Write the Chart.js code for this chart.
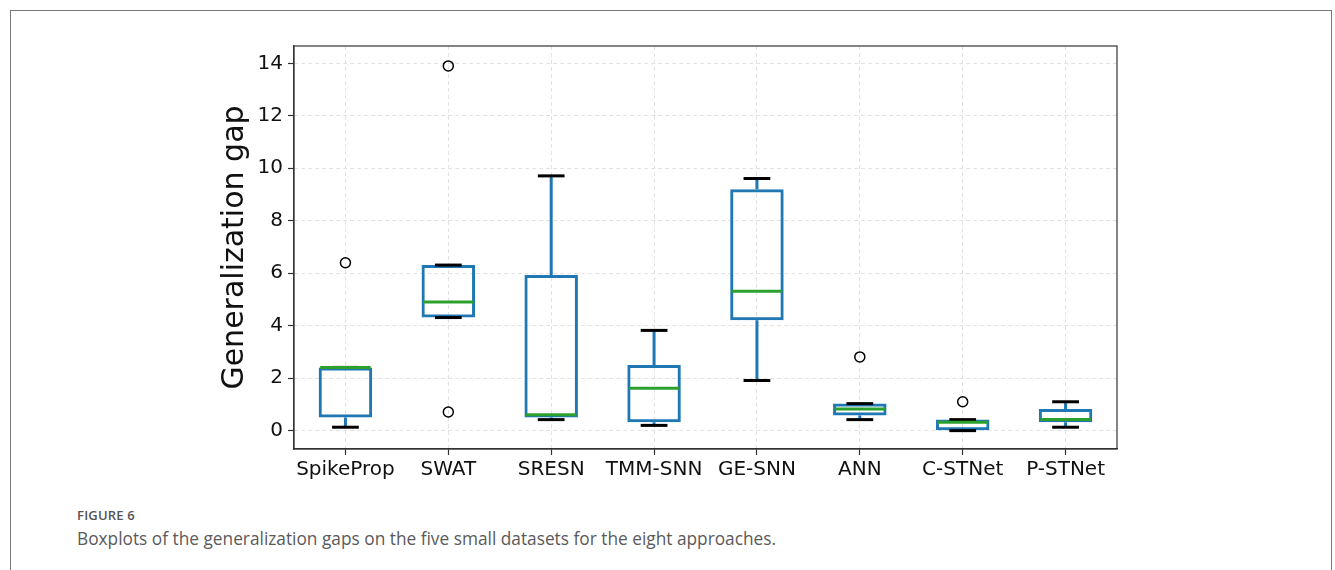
<!DOCTYPE html>
<html>
<head>
<meta charset="utf-8">
<script src="https://cdn.jsdelivr.net/npm/chart.js@4.4.1/dist/chart.umd.min.js"></script>
<style>
	body { margin: 0; background: #fff; overflow: hidden; }
	#frame {
		position: absolute; left: 10px; top: 10px; width: 1320px; height: 600px;
		border: 1px solid #777; border-bottom: none;
	}
	#chart { position: absolute; left: 0; top: 0; }
	.fig-no {
		position: absolute; left: 77px; top: 506px;
		font: 600 13px "Open Sans", sans-serif; color: #555; letter-spacing: 0.2px;
	}
	.fig-cap {
		position: absolute; left: 77px; top: 527px;
		font: 400 17.3px "Open Sans", sans-serif; color: #5a5a5a;
	}
</style>
</head>
<body>
<div id="frame"></div>
<canvas id="chart" width="1335" height="490"></canvas>
<div class="fig-no">FIGURE 6</div>
<div class="fig-cap">Boxplots of the generalization gaps on the five small datasets for the eight approaches.</div>

<script>
var methods = ["SpikeProp", "SWAT", "SRESN", "TMM-SNN", "GE-SNN", "ANN", "C-STNet", "P-STNet"];

// box statistics
var whiskerLow = [0.13, 4.31, 0.42, 0.2, 1.91, 0.42, 0.0, 0.13];
var q1 = [0.5, 4.31, 0.5, 0.32, 4.21, 0.58, 0.0, 0.32];
var median = [2.41, 4.9, 0.61, 1.62, 5.31, 0.82, 0.32, 0.42];
var q3 = [2.41, 6.31, 5.93, 2.5, 9.2, 1.03, 0.42, 0.82];
var whiskerHigh = [2.41, 6.31, 9.71, 3.82, 9.61, 1.03, 0.42, 1.1];

// fliers
var outlierMethods = ["SpikeProp", "SWAT", "SWAT", "ANN", "C-STNet"];
var outlierValues = [6.4, 13.9, 0.71, 2.81, 1.1];

var yTicks = [0, 2, 4, 6, 8, 10, 12, 14];

var BLUE = "#1f77b4";
var GREEN = "#2ca02c";

function drawSeg(ctx, x1, y1, x2, y2, color, width) {
	ctx.beginPath();
	ctx.strokeStyle = color;
	ctx.lineWidth = width;
	ctx.lineCap = "butt";
	ctx.moveTo(x1, y1);
	ctx.lineTo(x2, y2);
	ctx.stroke();
}

// whiskers, caps and medians, placed through the chart scales
var boxParts = {
	id: "boxParts",
	afterDatasetsDraw: function (chart) {
		var ctx = chart.ctx;
		var xs = chart.scales.x;
		var ys = chart.scales.y;
		var step = xs.getPixelForValue(1) - xs.getPixelForValue(0);
		var capHalf = step * 0.13;
		var boxHalf = step * 0.26;
		ctx.save();
		methods.forEach(function (m, i) {
			var x = xs.getPixelForValue(i);
			drawSeg(ctx, x, ys.getPixelForValue(q3[i]), x, ys.getPixelForValue(whiskerHigh[i]), BLUE, 3);
			drawSeg(ctx, x, ys.getPixelForValue(q1[i]), x, ys.getPixelForValue(whiskerLow[i]), BLUE, 3);
		});
		methods.forEach(function (m, i) {
			var x = xs.getPixelForValue(i);
			var yh = ys.getPixelForValue(whiskerHigh[i]);
			var yl = ys.getPixelForValue(whiskerLow[i]);
			drawSeg(ctx, x - capHalf, yh, x + capHalf, yh, "#000", 3);
			drawSeg(ctx, x - capHalf, yl, x + capHalf, yl, "#000", 3);
		});
		methods.forEach(function (m, i) {
			var x = xs.getPixelForValue(i);
			var ym = ys.getPixelForValue(median[i]);
			drawSeg(ctx, x - boxHalf + 1.5, ym, x + boxHalf - 1.5, ym, GREEN, 3);
		});
		ctx.restore();
	},
	afterDraw: function (chart) {
		// matplotlib-style spines on all four sides
		var a = chart.chartArea;
		var ctx = chart.ctx;
		ctx.save();
		ctx.strokeStyle = "#333";
		ctx.lineWidth = 1.2;
		ctx.strokeRect(a.left, a.top, a.right - a.left, a.bottom - a.top);
		ctx.restore();
	},
};

var ctx = document.getElementById("chart").getContext("2d");
new Chart(ctx, {
	type: "bar",
	data: {
		labels: methods,
		datasets: [
			{
				type: "line",
				label: "outliers",
				data: outlierMethods.map(function (m, i) {
					return { x: m, y: outlierValues[i] };
				}),
				showLine: false,
				pointStyle: "circle",
				pointRadius: 5,
				pointBorderWidth: 1.5,
				pointBorderColor: "#000",
				pointBackgroundColor: "rgba(0,0,0,0)",
			},
			{
				label: "box",
				data: methods.map(function (m, i) {
					return [q1[i], q3[i]];
				}),
				backgroundColor: "rgba(0,0,0,0)",
				borderColor: BLUE,
				borderWidth: 3,
				borderSkipped: false,
				barPercentage: 0.52,
				categoryPercentage: 1,
			},
		],
	},
	plugins: [boxParts],
	options: {
		responsive: false,
		animation: false,
		layout: {
			padding: { left: 217, right: 218, top: 46, bottom: 6 },
		},
		plugins: {
			legend: { display: false },
			tooltip: { enabled: false },
		},
		scales: {
			x: {
				offset: true,
				afterFit: function (scale) {
					scale.height = 35;
				},
				grid: {
					offset: false,
					color: "#e2e2e2",
					tickColor: "#333",
					tickLength: 6,
					tickWidth: 1.2,
				},
				border: { color: "#333", width: 1.2, dash: [4, 3] },
				ticks: {
					autoSkip: false,
					maxRotation: 0,
					padding: 3,
					color: "#111",
					font: { family: "DejaVu Sans", size: 20 },
				},
			},
			y: {
				min: -0.7,
				max: 14.66,
				afterFit: function (scale) {
					scale.width = 77;
				},
				afterBuildTicks: function (scale) {
					scale.ticks = yTicks.map(function (v) {
						return { value: v };
					});
				},
				grid: {
					color: "#e2e2e2",
					tickColor: "#333",
					tickLength: 6,
					tickWidth: 1.2,
				},
				border: { color: "#333", width: 1.2, dash: [4, 3] },
				ticks: {
					padding: 5,
					color: "#111",
					font: { family: "DejaVu Sans", size: 20 },
				},
				title: {
					display: true,
					text: "Generalization gap",
					padding: 0,
					color: "#111",
					font: { family: "DejaVu Sans", size: 30 },
				},
			},
		},
	},
});
</script>
</body>
</html>
